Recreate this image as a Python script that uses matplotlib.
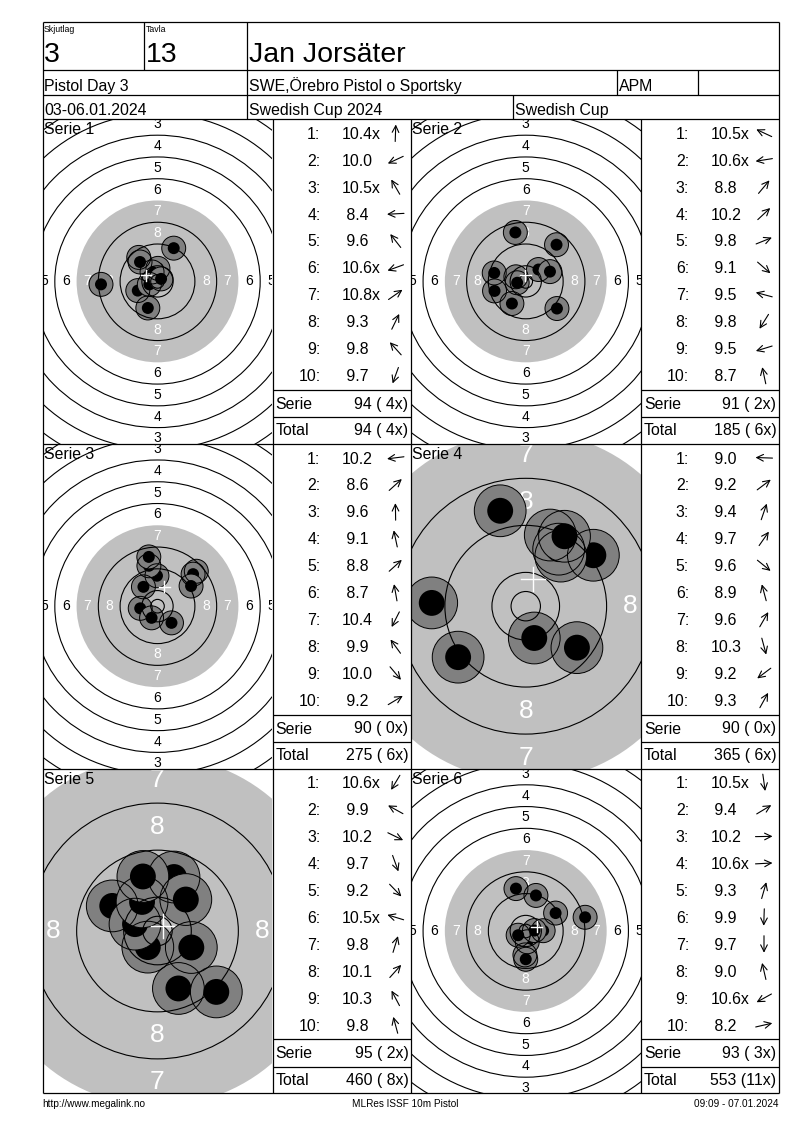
import numpy as np
import matplotlib
matplotlib.use("Agg")
import matplotlib.pyplot as plt
from matplotlib.patches import Circle

plt.rcParams['font.family'] = ['Liberation Sans', 'DejaVu Sans']

# header texts
relay = "3"
lane = "13"
shooter = "Jan Jorsäter"
event = "Pistol Day 3"
club = "SWE,Örebro Pistol o Sportsky"
shooter_class = "APM"
dates = "03-06.01.2024"
competition = "Swedish Cup 2024"
cup = "Swedish Cup"
footer_left = "http://www.megalink.no"
footer_mid = "MLRes ISSF 10m Pistol"
footer_right = "09:09 - 07.01.2024"

# shot values per series ("x" = inner ten) and hit direction from centre
# (degrees, 0 = right, 90 = up), read from the target pictures / arrows
s1_scores = ["10.4x", "10.0", "10.5x", "8.4", "9.6", "10.6x", "10.8x", "9.3", "9.8", "9.7"]
s1_dirs = [88, 205, 120, 183, 128, 200, 35, 64, 132, 250]
s2_scores = ["10.5x", "10.6x", "8.8", "10.2", "9.8", "9.1", "9.5", "9.8", "9.5", "8.7"]
s2_dirs = [155, 189, 50, 43, 22, 319, 165, 238, 197, 102]
s3_scores = ["10.2", "8.6", "9.6", "9.1", "8.8", "8.7", "10.4", "9.9", "10.0", "9.2"]
s3_dirs = [187, 42, 91, 102, 42, 100, 243, 126, 310, 31]
s4_scores = ["9.0", "9.2", "9.4", "9.7", "9.6", "8.9", "9.6", "10.3", "9.2", "9.3"]
s4_dirs = [178, 37, 71, 55, 321, 105, 60, 285, 217, 61]
s5_scores = ["10.6x", "9.9", "10.2", "9.7", "9.2", "10.5x", "9.8", "10.1", "10.3", "9.8"]
s5_dirs = [239, 151, 334, 290, 314, 163, 73, 48, 118, 105]
s6_scores = ["10.5x", "9.4", "10.2", "10.6x", "9.3", "9.9", "9.7", "9.0", "10.6x", "8.2"]
s6_dirs = [278, 31, 1, 3, 74, 268, 270, 103, 209, 13]

serie_sums = [94, 91, 90, 90, 95, 93]
serie_inner = [4, 2, 0, 0, 2, 3]
total_sums = [94, 185, 275, 365, 460, 553]
total_inner = [4, 6, 6, 6, 8, 11]

all_scores = [s1_scores, s2_scores, s3_scores, s4_scores, s5_scores, s6_scores]
all_dirs = [s1_dirs, s2_dirs, s3_dirs, s4_dirs, s5_dirs, s6_dirs]

W, H = 800, 1130
FS = 11.4
fig = plt.figure(figsize=(W / 100, H / 100), dpi=100)
ax = fig.add_axes([0, 0, 1, 1])
ax.set_xlim(0, W)
ax.set_ylim(H, 0)
ax.axis('off')
ax.set_zorder(5)
ax.patch.set_visible(False)

LEFT, RIGHT = 42.5, 778.5
TOP = 21.7
PANEL_TOP, PANEL_H = 119, 324.8
BOTTOM = PANEL_TOP + 3 * PANEL_H
COLS = [(42.5, 272.5, 410.5), (410.5, 641, 778.5)]

# ring radii of the 10m air pistol target, mm
RING_R = {n: 5.75 + 8 * (10 - n) for n in range(1, 11)}


def line(x0, y0, x1, y1):
    ax.plot([x0, x1], [y0, y1], color='black', lw=0.9, solid_capstyle='butt')


def draw_target(x0, x1, y0, scores, dirs, scale, lab_fs, idx):
    w, h = x1 - x0, PANEL_H
    t = fig.add_axes([x0 / W, 1 - (y0 + h) / H, w / W, h / H])
    xlim, ylim = w / 2 / scale, h / 2 / scale
    t.set_xlim(-xlim, xlim)
    t.set_ylim(-ylim, ylim)
    t.axis('off')
    t.add_patch(Circle((0, 0), RING_R[7], fc='#c0c0c0', ec='none', zorder=1))
    for n in range(1, 9):
        r = RING_R[n] - 4
        col = 'white' if n >= 7 else 'black'
        spots = []
        if r <= ylim:
            spots += [(0, r), (0, -r)]
        if r <= xlim:
            spots += [(r, 0), (-r, 0)]
        for dx, dy in spots:
            t.text(dx, dy, str(n), color=col, fontsize=lab_fs, ha='center',
                   va='center', zorder=2, clip_on=True)
    vals = np.array([float(s.rstrip('x')) for s in scores])
    ang = np.radians(dirs)
    dist = (11 - vals) * 8
    xs, ys = dist * np.cos(ang), dist * np.sin(ang)
    for x, y in zip(xs, ys):
        t.add_patch(Circle((x, y), 4.4, fc='#808080', ec='none', zorder=3))
        t.add_patch(Circle((x, y), 2.2, fc='black', ec='none', zorder=3))
    for x, y in zip(xs, ys):
        t.add_patch(Circle((x, y), 4.4, fc='none', ec='black', lw=0.7, zorder=4))
    for n in range(1, 11):
        if n != 7:
            t.add_patch(Circle((0, 0), RING_R[n], fc='none', ec='black', lw=0.8, zorder=4))
    t.add_patch(Circle((0, 0), 2.5, fc='none', ec='black', lw=0.8, zorder=4))
    mx, my = xs.mean(), ys.mean()
    t.plot([mx - 2, mx + 2], [my, my], color='white', lw=1, zorder=5)
    t.plot([mx, mx], [my - 2, my + 2], color='white', lw=1, zorder=5)
    ax.text(x0 + 1.5, y0 + 15.5, f"Serie {idx + 1}", fontsize=FS, ha='left', va='baseline')


def draw_table(x0, x1, y0, scores, dirs, idx):
    for i, (s, d) in enumerate(zip(scores, dirs)):
        yb = y0 + 19.7 + 26.94 * i
        ax.text(x0 + 48, yb, f"{i + 1}:", fontsize=FS, ha='right', va='baseline')
        txt = s if s.startswith('10') else ' ' + s
        ax.text(x0 + 69.5, yb, txt, fontsize=FS, ha='left', va='baseline')
        cx, cy = x0 + 123, yb - 5.7
        a = np.radians(d)
        dx, dy = 8.5 * np.cos(a), -8.5 * np.sin(a)
        ax.annotate('', xy=(cx + dx, cy + dy), xytext=(cx - dx, cy - dy),
                    arrowprops=dict(arrowstyle='->', lw=0.8, shrinkA=0, shrinkB=0,
                                    mutation_scale=12, color='black'))
    line(x0, y0 + 270.7, x1, y0 + 270.7)
    line(x0, y0 + 298, x1, y0 + 298)
    ax.text(x0 + 3, y0 + 289.7, "Serie", fontsize=FS, ha='left', va='baseline')
    ax.text(x1 - 2, y0 + 289.7, f"{serie_sums[idx]} ({serie_inner[idx]:2d}x)",
            fontsize=FS, ha='right', va='baseline')
    ax.text(x0 + 3, y0 + 316.3, "Total", fontsize=FS, ha='left', va='baseline')
    ax.text(x1 - 2, y0 + 316.3, f"{total_sums[idx]} ({total_inner[idx]:2d}x)",
            fontsize=FS, ha='right', va='baseline')


# series 4 and 5 are shown zoomed in
scales = [2.72, 2.72, 2.72, 5.88, 5.88, 2.72]
for k in range(6):
    row, col = divmod(k, 2)
    tx0, tx1, tx2 = COLS[col]
    y0 = PANEL_TOP + row * PANEL_H
    zoomed = scales[k] > 3
    draw_target(tx0, tx1, y0, all_scores[k], all_dirs[k], scales[k],
                19 if zoomed else 10, k)
    draw_table(tx1, tx2, y0, all_scores[k], all_dirs[k], k)

# frame
line(LEFT, TOP, RIGHT, TOP)
line(LEFT, BOTTOM, RIGHT, BOTTOM)
line(LEFT, TOP, LEFT, BOTTOM)
line(RIGHT, TOP, RIGHT, BOTTOM)
for y in [70, 95, PANEL_TOP, PANEL_TOP + PANEL_H, PANEL_TOP + 2 * PANEL_H]:
    line(LEFT, y, RIGHT, y)
line(144, TOP, 144, 70)
line(246.5, TOP, 246.5, PANEL_TOP)
line(616.5, 70, 616.5, 95)
line(698, 70, 698, 95)
line(513, 95, 513, PANEL_TOP)
for x in [272.5, 410.5, 641]:
    line(x, PANEL_TOP, x, BOTTOM)

# header texts
ax.text(44, 31.5, "Skjutlag", fontsize=6.3, va='baseline')
ax.text(146, 31.5, "Tavla", fontsize=6.3, va='baseline')
ax.text(44, 61.7, relay, fontsize=20.5, va='baseline')
ax.text(146, 61.7, lane, fontsize=20.5, va='baseline')
ax.text(249, 61.7, shooter, fontsize=20.5, va='baseline')
ax.text(44.5, 91.2, event, fontsize=FS, va='baseline')
ax.text(249, 91.2, club, fontsize=FS, va='baseline')
ax.text(618.5, 91.2, shooter_class, fontsize=FS, va='baseline')
ax.text(44.5, 115, dates, fontsize=FS, va='baseline')
ax.text(249, 115, competition, fontsize=FS, va='baseline')
ax.text(515, 115, cup, fontsize=FS, va='baseline')

# footer
ax.text(42.5, 1107, footer_left, fontsize=7.2, va='baseline')
ax.text(405, 1107, footer_mid, fontsize=7.2, ha='center', va='baseline')
ax.text(778.5, 1107, footer_right, fontsize=7.2, ha='right', va='baseline')

fig.savefig("out.png", dpi=100, facecolor='white')
